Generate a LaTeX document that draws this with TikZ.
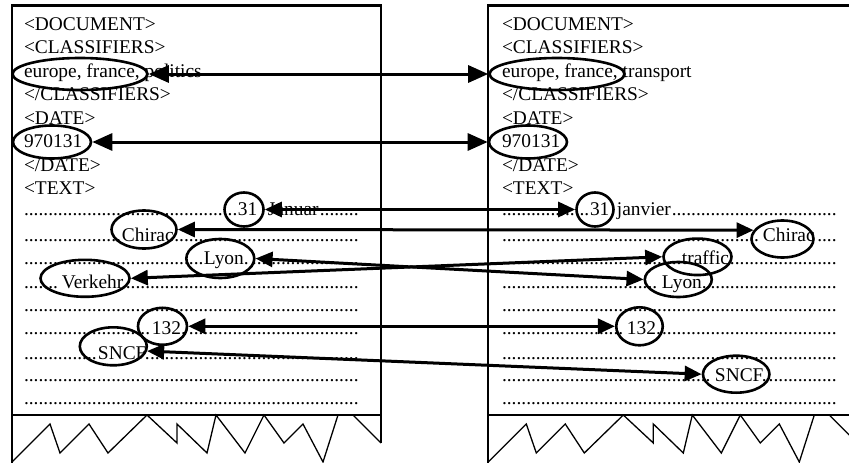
\documentclass[tikz,border=0pt]{standalone}
\usepackage{fontspec}
\setmainfont{Liberation Serif}
\usetikzlibrary{shapes.geometric,arrows.meta}

% a line of body text: a run of dots, the words, then dots to the end of the line
\newcommand\dotlead[1]{\leaders\hbox{.}\hskip #1\relax}
\newcommand\dotrest{\leaders\hbox{.}\hfill}
\newcommand\bodyrow[2]{\hbox to 336pt{\dotlead{#1}#2\dotrest}}
\newcommand\dotsonly{\hbox to 336pt{\dotrest}}

\begin{document}
\begin{tikzpicture}[x=1pt,y=-1pt,
  every node/.style={inner sep=0pt,outer sep=0pt},
  txt/.style={anchor=base west,font=\fontsize{19.4}{23.45}\selectfont},
  ring/.style={ellipse,draw,line width=2.6pt,outer sep=1.3pt},
  link/.style={line width=3pt,
    {Triangle[length=17pt,width=15pt]}-{Triangle[length=17pt,width=15pt]}},
  headlink/.style={line width=3pt,
    {Triangle[length=20pt,width=17pt]}-{Triangle[length=20pt,width=17pt]}},
  sheet/.style={line width=1.8pt},
  rim/.style={line width=2.5pt},
  tear/.style={line width=1.3pt,line join=miter}]
\useasboundingbox (0,0) rectangle (849,463);
\clip (0,0) rectangle (849,463);

% ---- the two document sheets with torn bottoms ----
\foreach \dx in {0,476.3}{
  \begin{scope}[xshift=\dx pt]
    \draw[rim] (11,5.5) -- (382,5.5);
    \draw[sheet] (12,463) -- (12,5.5);
    \draw[sheet] (381,5.5) -- (381,443);
    \draw[line width=1.5pt] (12,415) -- (381,415);
    \draw[tear] (12,462) -- (50,424) -- (60,453) -- (89,424) -- (108,453)
      -- (147,415) -- (177,443) -- (177,424) -- (207,453) -- (216,415)
      -- (245,453) -- (264,415) -- (284,443) -- (303,424) -- (323,462)
      -- (338,415);
    \draw[tear] (353,415) -- (381,443);
  \end{scope}
}

% ---- header lines ----
\foreach \t [count=\i from 0] in {<DOCUMENT>,<CLASSIFIERS>,{europe, france, politics},</CLASSIFIERS>,<DATE>,970131,</DATE>,<TEXT>}
  \node[txt] (hl\i) at (24,30+23.5*\i) {\t};
\foreach \t [count=\i from 0] in {<DOCUMENT>,<CLASSIFIERS>,{europe, france, transport},</CLASSIFIERS>,<DATE>,970131,</DATE>,<TEXT>}
  \node[txt] (hr\i) at (502,30+23.5*\i) {\t};

% ---- body text, German document ----
\node[txt] (bl1) at (24,215)   {\bodyrow{214pt}{31\hskip 10.6pt Januar}};
\node[txt] (bl2) at (24,241.5) {\bodyrow{98pt}{Chirac}};
\node[txt] (bl3) at (24,264.5) {\bodyrow{180pt}{Lyon.}};
\node[txt] (bl4) at (24,288.5) {\bodyrow{38pt}{Verkehr}};
\node[txt] (bl5) at (24,311.5) {\dotsonly};
\node[txt] (bl6) at (24,334.5) {\bodyrow{128pt}{132.}};
\node[txt] (bl7) at (24,359)   {\bodyrow{74pt}{SNCF.}};
\node[txt] (bl8) at (24,381.5) {\dotsonly};
\node[txt] (bl9) at (24,404.5) {\dotsonly};

% ---- body text, French document ----
\node[txt] (br1) at (502,215)   {\bodyrow{88pt}{31\hskip 7.6pt janvier}};
\node[txt] (br2) at (502,241.5) {\bodyrow{261pt}{Chirac}};
\node[txt] (br3) at (502,264.5) {\bodyrow{180pt}{traffic}};
\node[txt] (br4) at (502,288.5) {\bodyrow{160pt}{Lyon.}};
\node[txt] (br5) at (502,311.5) {\dotsonly};
\node[txt] (br6) at (502,334.5) {\bodyrow{125pt}{132.}};
\node[txt] (br7) at (502,359)   {\dotsonly};
\node[txt] (br8) at (502,381.5) {\bodyrow{213pt}{SNCF.}};
\node[txt] (br9) at (502,404.5) {\dotsonly};

% ---- marked terms ----
\node[ring,minimum width=135pt,minimum height=32pt] (clsL) at (80,74) {};
\node[ring,minimum width=135pt,minimum height=32pt] (clsR) at (557,74) {};
\node[ring,minimum width=78pt,minimum height=33pt] (dateL) at (52,142) {};
\node[ring,minimum width=78pt,minimum height=33pt] (dateR) at (528,142) {};
\node[ring,minimum width=39pt,minimum height=34pt] (dayL) at (244,209.5) {};
\node[ring,minimum width=37pt,minimum height=34pt] (dayR) at (595,209.5) {};
\node[ring,minimum width=65pt,minimum height=38pt] (chL) at (144,229.5) {};
\node[ring,minimum width=62pt,minimum height=37pt] (chR) at (782.5,239) {};
\node[ring,minimum width=68pt,minimum height=39pt] (lyL) at (220.3,258.5) {};
\node[ring,minimum width=67pt,minimum height=35pt] (lyR) at (678.3,279.5) {};
\node[ring,minimum width=89pt,minimum height=37pt] (veL) at (85,278.3) {};
\node[ring,minimum width=68pt,minimum height=36.5pt] (trR) at (697.5,256.8) {};
\node[ring,minimum width=49pt,minimum height=37pt] (numL) at (162.5,326.3) {};
\node[ring,minimum width=46.5pt,minimum height=38pt] (numR) at (639.5,326.3) {};
\node[ring,minimum width=67pt,minimum height=38pt] (snL) at (113.3,346.3) {};
\node[ring,minimum width=66.5pt,minimum height=37pt] (snR) at (736.2,374.2) {};

% ---- alignments between the two documents ----
\draw[headlink] (clsL.east) -- (clsR.west);
\draw[headlink] (dateL.east) -- (dateR.west);
\draw[link] (dayL.east) -- (dayR.west);
\draw[link] (chL.east) -- (chR.163);
\draw[link] (lyL.east) -- (lyR.west);
\draw[link] (veL.east) -- (trR.west);
\draw[link] (numL.east) -- (numR.west);
\draw[link] (snL.-8) -- (snR.west);
\end{tikzpicture}
\end{document}
